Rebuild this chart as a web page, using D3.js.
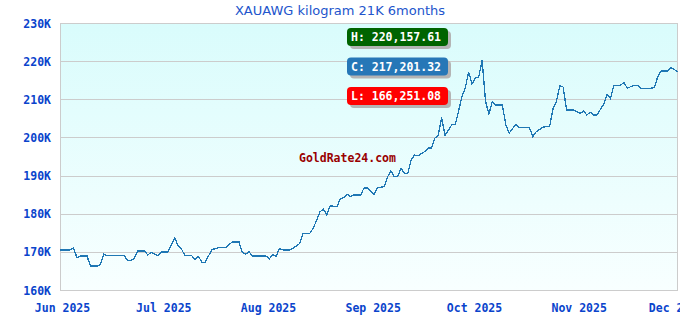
<!DOCTYPE html>
<html><head><meta charset="utf-8">
<script src="https://cdn.jsdelivr.net/npm/d3@7"></script>
<style>
html,body{margin:0;padding:0;background:#fff;overflow:hidden}
svg{display:block}
</style></head>
<body><div id="chart"></div>
<script>
const title = "XAUAWG kilogram 21K 6months";
const dates = ["2025-06-01","2025-06-04","2025-06-05","2025-06-06","2025-06-07","2025-06-09","2025-06-10","2025-06-12","2025-06-13","2025-06-14","2025-06-15","2025-06-20","2025-06-21","2025-06-22","2025-06-23","2025-06-24","2025-06-26","2025-06-27","2025-06-28","2025-06-30",
"2025-07-01","2025-07-03","2025-07-05","2025-07-06","2025-07-07","2025-07-08","2025-07-10","2025-07-11","2025-07-12","2025-07-13","2025-07-14","2025-07-16","2025-07-18","2025-07-20","2025-07-22","2025-07-24","2025-07-25","2025-07-26","2025-07-27","2025-07-28",
"2025-08-01","2025-08-02","2025-08-03","2025-08-04","2025-08-05","2025-08-06","2025-08-08","2025-08-10","2025-08-11","2025-08-12","2025-08-14","2025-08-15","2025-08-17","2025-08-18","2025-08-19","2025-08-20","2025-08-22","2025-08-23","2025-08-24","2025-08-25","2025-08-26","2025-08-27","2025-08-29","2025-08-30","2025-08-31",
"2025-09-02","2025-09-03","2025-09-05","2025-09-06","2025-09-07","2025-09-08","2025-09-09","2025-09-10","2025-09-11","2025-09-12","2025-09-13","2025-09-14","2025-09-15","2025-09-17","2025-09-18","2025-09-19","2025-09-20","2025-09-21","2025-09-22","2025-09-23","2025-09-24","2025-09-25","2025-09-26","2025-09-27","2025-09-28","2025-09-29","2025-09-30",
"2025-10-01","2025-10-02","2025-10-03","2025-10-04","2025-10-05","2025-10-06","2025-10-07","2025-10-08","2025-10-10","2025-10-11","2025-10-12","2025-10-14","2025-10-15","2025-10-18","2025-10-19","2025-10-20","2025-10-22","2025-10-24","2025-10-25","2025-10-26","2025-10-27","2025-10-28","2025-10-29","2025-10-31",
"2025-11-02","2025-11-03","2025-11-04","2025-11-05","2025-11-06","2025-11-07","2025-11-09","2025-11-10","2025-11-11","2025-11-12","2025-11-14","2025-11-15","2025-11-16","2025-11-18","2025-11-19","2025-11-20","2025-11-23","2025-11-24","2025-11-25","2025-11-26","2025-11-28","2025-11-29","2025-12-01"];
const values = [170500,170500,171100,168500,168900,168900,166300,166251.08,166700,169400,169000,169000,167800,167800,168300,170200,170200,169200,169900,169000,
170000,170000,173600,171600,170700,169000,169000,168000,168800,167300,167300,170600,171100,171100,172600,172600,169900,169400,170000,168900,
168900,168200,169300,168800,170900,170500,170500,171500,172200,174900,174900,176200,180500,181200,179700,182100,181800,183900,184200,185100,184500,184900,184900,186700,186800,
185100,186800,187100,189700,191200,189700,189700,191900,190600,190600,194100,195400,195200,196300,197200,197200,199800,200600,205200,200600,201900,203300,203300,206800,210700,212900,217200,
214000,215600,215900,220157.61,209500,206100,209400,208500,208500,203300,201100,203500,202600,202600,200200,201500,202700,202900,207600,209400,213600,213200,207200,207200,
206300,206900,205900,206600,205900,205900,208700,211300,210200,213700,213700,214400,212900,213700,213700,212900,212900,213100,215900,217400,217400,218300,217201.32];
const yTicks = [160000,170000,180000,190000,200000,210000,220000,230000];
const xTickDates = ["2025-06-01","2025-07-01","2025-08-01","2025-09-01","2025-10-01","2025-11-01","2025-12-01"];
const badgeLabels = ["H","C","L"];
const badgeColors = ["#006400","#2677b7","#ff0000"];
const watermark = "GoldRate24.com";

const W = 680, H = 320;
const M = {left:60, right:678, top:23, bottom:290};
const parse = d3.utcParse("%Y-%m-%d");
const data = dates.map((d,i)=>({date:parse(d), value:values[i]}));

const x = d3.scaleUtc().domain([parse("2025-06-01"), parse("2025-12-01")]).range([M.left, M.right]);
const y = d3.scaleLinear().domain([160000,230000]).range([M.bottom, M.top]);

const svg = d3.select("#chart").append("svg").attr("width",W).attr("height",H);
const defs = svg.append("defs");
const grad = defs.append("linearGradient").attr("id","bg").attr("x1",0).attr("y1",0).attr("x2",0).attr("y2",1);
grad.append("stop").attr("offset","0%").attr("stop-color","#d9fcfc");
grad.append("stop").attr("offset","100%").attr("stop-color","#f8ffff");

svg.append("rect").attr("x",M.left).attr("y",M.top).attr("width",M.right-M.left).attr("height",M.bottom-M.top).attr("fill","url(#bg)");

// grid lines
svg.append("g").selectAll("line").data(yTicks).join("line")
  .attr("x1",M.left).attr("x2",M.right)
  .attr("y1",d=>Math.round(y(d))+0.5).attr("y2",d=>Math.round(y(d))+0.5)
  .attr("stroke","#cccccc").attr("stroke-width",1).attr("shape-rendering","crispEdges");
// border
svg.append("rect").attr("x",M.left+0.5).attr("y",Math.round(M.top)+0.5).attr("width",M.right-M.left-1).attr("height",M.bottom-M.top)
  .attr("fill","none").attr("stroke","#cccccc").attr("shape-rendering","crispEdges");

const mono = "'DejaVu Sans Mono', monospace";
// y axis labels
const yAxis = d3.axisLeft(y).tickValues(yTicks).tickSize(0).tickPadding(9).tickFormat(d=>d3.format("d")(d/1000)+"K");
const gy = svg.append("g").attr("transform",`translate(${M.left},0)`).call(yAxis);
gy.select(".domain").remove();
gy.selectAll("text").attr("font-family",mono).attr("font-weight","bold").attr("font-size","11.5px").attr("fill","#0a44cc").attr("dy","0.36em");

// x axis labels
const xAxis = d3.axisBottom(x).tickValues(xTickDates.map(parse)).tickSize(0).tickPadding(0).tickFormat(d3.utcFormat("%b %Y"));
const gx = svg.append("g").attr("transform",`translate(2,${M.bottom})`).call(xAxis);
gx.select(".domain").remove();
gx.selectAll("text").attr("font-family",mono).attr("font-weight","bold").attr("font-size","11.5px").attr("fill","#0a44cc").attr("dy","0").attr("y",22)
  .attr("dx",(d,i)=> i===xTickDates.length-1 ? -4 : 0);

// title
svg.append("text").attr("x",340).attr("y",15).attr("text-anchor","middle")
  .attr("font-family","'DejaVu Sans', sans-serif").attr("font-size","13px").attr("fill","#2255cc").text(title);

// watermark
svg.append("text").attr("x",299).attr("y",162).attr("font-family",mono).attr("font-weight","bold")
  .attr("font-size","11.5px").attr("fill","#990000").text(watermark);

// line
const line = d3.line().x(d=>x(d.date)).y(d=>y(d.value));
svg.append("path").datum(data).attr("d",line).attr("fill","none").attr("stroke","#1f77b4")
  .attr("stroke-width",1.3).attr("shape-rendering","crispEdges");

// badges
const fmt = d3.format(",.2f");
const badgeVals = [d3.max(values), values[values.length-1], d3.min(values)];
const bg = svg.append("g");
badgeLabels.forEach((lab,i)=>{
  const by = 28 + i*29.5, bx = 347, bw = 101, bh = 18;
  bg.append("rect").attr("x",bx+3).attr("y",by+3).attr("width",bw).attr("height",bh).attr("rx",4).attr("fill","#b4b4b4");
  bg.append("rect").attr("x",bx).attr("y",by).attr("width",bw).attr("height",bh).attr("rx",4).attr("fill",badgeColors[i]);
  bg.append("text").attr("x",bx+4).attr("y",by+13).attr("font-family",mono).attr("font-weight","bold")
    .attr("font-size","11.5px").attr("fill","#ffffff").text(lab+": "+fmt(badgeVals[i]));
});
</script></body></html>
